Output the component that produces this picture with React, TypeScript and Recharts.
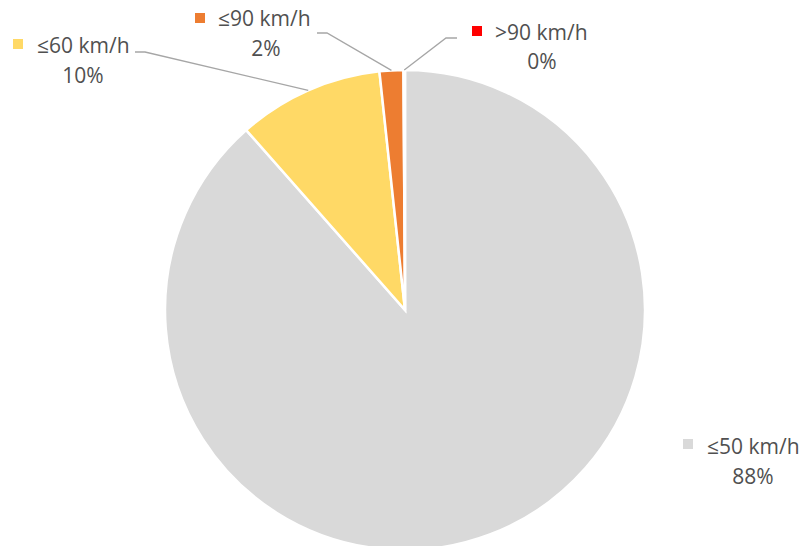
import { PieChart, Pie, Cell } from "recharts";

const categories = ["≤50 km/h", "≤60 km/h", "≤90 km/h", ">90 km/h"];
const shares = [88.49, 9.81, 1.6, 0.1];
const colors = ["#d9d9d9", "#ffd966", "#ed7d31", "#ff0000"];

const data = categories.map((name, i) => ({ name, value: shares[i] }));
const total = shares.reduce((a, b) => a + b, 0);

// where each label sits (marker, name start, percent centre, leader elbow)
const labelPos = [
  { mx: 683, my: 439, nx: 707, ny: 446, px: 753, py: 476, ex: null, ey: null, lx: null },
  { mx: 13, my: 39, nx: 37, ny: 45, px: 83, py: 75, ex: 145, ey: 52, lx: 135 },
  { mx: 195, my: 13, nx: 218, ny: 18, px: 266, py: 48, ex: 327, ey: 33, lx: 317 },
  { mx: 472, my: 26, nx: 495, ny: 32, px: 542, py: 61, ex: 446, ey: 38, lx: 457 },
];

const RAD = Math.PI / 180;

function renderLabel(props: any) {
  const { cx, cy, outerRadius, midAngle, index, value } = props;
  const p = labelPos[index];
  const pct = `${Math.round((value / total) * 100)}%`;
  const sx = cx + outerRadius * Math.cos(-midAngle * RAD);
  const sy = cy + outerRadius * Math.sin(-midAngle * RAD);
  return (
    <g key={`lbl-${index}`}>
      {p.ex !== null && (
        <polyline
          points={`${sx},${sy} ${p.ex},${p.ey} ${p.lx},${p.ey}`}
          fill="none"
          stroke="#a6a6a6"
          strokeWidth={1.3}
        />
      )}
      <rect x={p.mx} y={p.my} width={10} height={10} fill={colors[index]} />
      <text
        x={p.nx}
        y={p.ny}
        fill="#505050"
        fontSize={21}
        fontFamily="'Open Sans', sans-serif"
        dominantBaseline="central"
        textAnchor="start"
      >
        {categories[index]}
      </text>
      <text
        x={p.px}
        y={p.py}
        fill="#505050"
        fontSize={21}
        fontFamily="'Open Sans', sans-serif"
        dominantBaseline="central"
        textAnchor="middle"
      >
        {pct}
      </text>
    </g>
  );
}

export default function App() {
  return (
    <div style={{ width: 803, height: 546, background: "#fff" }}>
      <style>{"body{margin:0}"}</style>
      <PieChart width={803} height={546} margin={{ top: 0, right: 0, bottom: 0, left: 0 }}>
        <Pie
          data={data}
          dataKey="value"
          nameKey="name"
          cx={405}
          cy={310}
          outerRadius={240}
          startAngle={90}
          endAngle={-270}
          stroke="#ffffff"
          strokeWidth={2.5}
          label={renderLabel}
          labelLine={false}
          isAnimationActive={false}
        >
          {data.map((d, i) => (
            <Cell key={`cell-${i}`} fill={colors[i]} />
          ))}
        </Pie>
      </PieChart>
    </div>
  );
}
